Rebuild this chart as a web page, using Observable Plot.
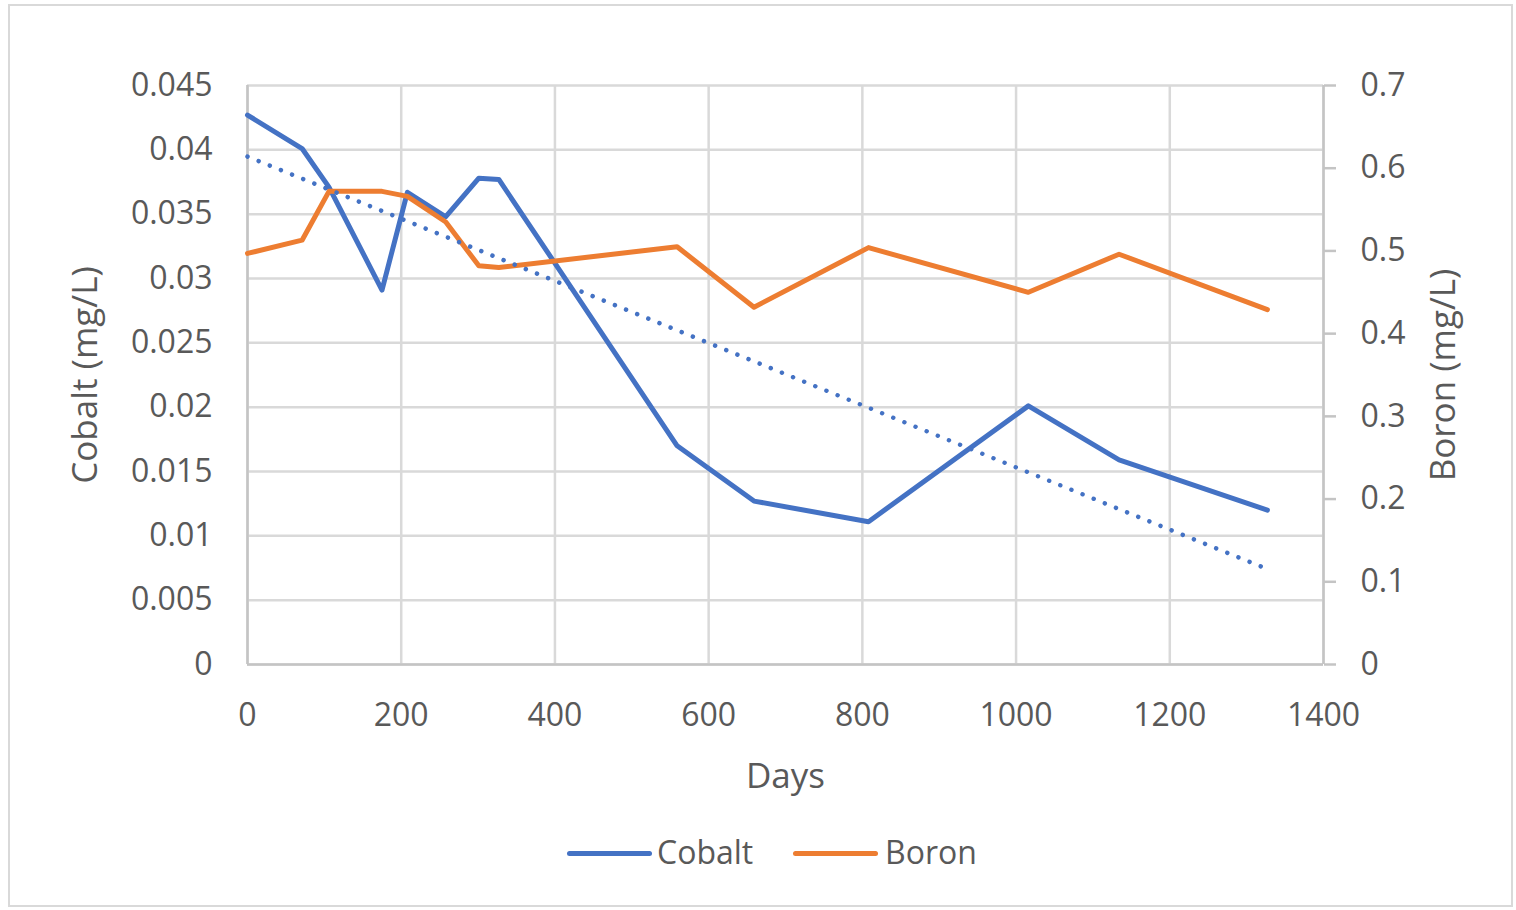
<!DOCTYPE html>
<html>
<head>
<meta charset="utf-8">
<script src="https://cdn.jsdelivr.net/npm/d3@7"></script>
<script src="https://cdn.jsdelivr.net/npm/@observablehq/plot@0.6"></script>
<style>
  body { margin: 0; background: #fff; width: 1516px; height: 910px; position: relative; overflow: hidden; font-family: "Open Sans", sans-serif; }
  #frame { position: absolute; left: 8px; top: 4px; width: 1505px; height: 903px; border: 2px solid #d9d9d9; box-sizing: border-box; }
  #chart { position: absolute; left: 0; top: 0; }
  .lg-sw { position: absolute; height: 5px; border-radius: 3px; top: 851px; }
  .lg-tx { position: absolute; top: 830px; font-size: 32px; line-height: 44px; color: #595959; }
</style>
</head>
<body>
<div id="frame"></div>
<div id="chart"></div>
<div class="lg-sw" style="left:567px;width:85px;background:#4472C4"></div>
<div class="lg-tx" style="left:657px">Cobalt</div>
<div class="lg-sw" style="left:793px;width:85px;background:#ED7D31"></div>
<div class="lg-tx" style="left:885px">Boron</div>
<script>
// Data
const days   = [0, 71, 106, 175, 208, 258, 301, 327, 559, 659, 808, 1016, 1134, 1327];
const cobalt = [0.0427, 0.0401, 0.0371, 0.0291, 0.0367, 0.0348, 0.0378, 0.0377, 0.0170, 0.0127, 0.0111, 0.0201, 0.0159, 0.0120];
const boron  = [0.497, 0.513, 0.572, 0.572, 0.566, 0.535, 0.482, 0.480, 0.505, 0.432, 0.504, 0.450, 0.496, 0.429];

const xTicks = [0, 200, 400, 600, 800, 1000, 1200, 1400];
const cobaltTicks = [0, 0.005, 0.01, 0.015, 0.02, 0.025, 0.03, 0.035, 0.04, 0.045];
const boronTicks = [0, 0.1, 0.2, 0.3, 0.4, 0.5, 0.6, 0.7];

const cobaltMax = 0.045, boronMax = 0.7;
const k = cobaltMax / boronMax;

const rows = days.map((d, i) => ({ day: d, cobalt: cobalt[i], boronScaled: boron[i] * k }));

const grey = "#595959";
const chart = Plot.plot({
  width: 1516,
  height: 800,
  marginLeft: 247,
  marginRight: 193,
  marginTop: 85,
  marginBottom: 136,
  style: { fontFamily: '"Open Sans", sans-serif', fontSize: "32px", color: grey, background: "transparent", overflow: "visible" },
  x: { domain: [0, 1400] },
  y: { domain: [0, cobaltMax] },
  marks: [
    Plot.gridX(xTicks, { stroke: "#d9d9d9", strokeOpacity: 1, strokeWidth: 2.5 }),
    Plot.gridY(cobaltTicks, { stroke: "#d9d9d9", strokeOpacity: 1, strokeWidth: 2.5 }),
    Plot.ruleX([0], { stroke: "#c4c4c4", strokeWidth: 2.5 }),
    Plot.ruleX([1400], { stroke: "#c4c4c4", strokeWidth: 2.5 }),
    Plot.ruleY([0], { stroke: "#c4c4c4", strokeWidth: 2.5 }),
    Plot.axisX(xTicks, { anchor: "bottom", tickSize: 0, tickPadding: 39, fill: grey, label: null, fontSize: 32,
      tickFormat: d => String(d) }),
    Plot.axisY(cobaltTicks, { anchor: "left", tickSize: 0, tickPadding: 35, fill: grey, label: null, fontSize: 32,
      tickFormat: d => String(+d.toFixed(3)) }),
    Plot.axisY(boronTicks.map(v => v * k), { anchor: "right", tickSize: 12, tickPadding: 25, stroke: "#c4c4c4", strokeWidth: 2.5, fill: grey, label: null, fontSize: 32,
      tickFormat: d => String(+(d / k).toFixed(1)) }),
    Plot.line(rows, { x: "day", y: "cobalt", stroke: "#4472C4", strokeWidth: 5 }),
    Plot.line(rows, { x: "day", y: "boronScaled", stroke: "#ED7D31", strokeWidth: 5 }),
    Plot.linearRegressionY(rows, { x: "day", y: "cobalt", stroke: "#4472C4", strokeWidth: 4.5, strokeDasharray: "0.01 12", strokeLinecap: "round", ci: 0 }),
    Plot.text(["Cobalt (mg/L)"], { frameAnchor: "left", dx: -162, rotate: -90, fontSize: 35, fill: grey, textAnchor: "middle", lineAnchor: "middle" }),
    Plot.text(["Boron (mg/L)"], { frameAnchor: "right", dx: 120, rotate: -90, fontSize: 35, fill: grey, textAnchor: "middle", lineAnchor: "middle" }),
    Plot.text(["Days"], { frameAnchor: "bottom", dy: 112, fontSize: 35, fill: grey, textAnchor: "middle", lineAnchor: "middle" })
  ]
});
document.getElementById("chart").appendChild(chart);
</script>
</body>
</html>
